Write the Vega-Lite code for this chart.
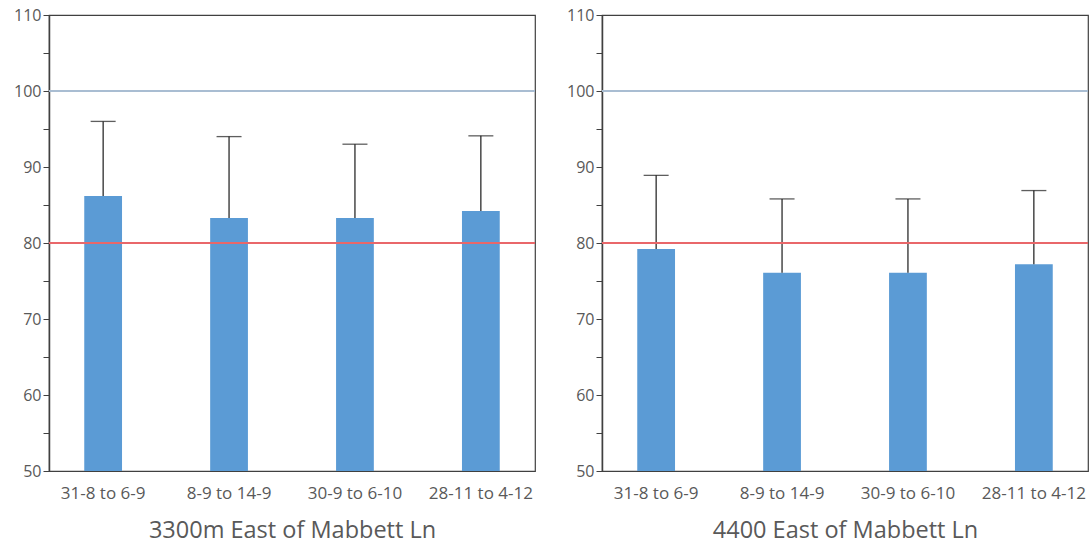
{
  "$schema": "https://vega.github.io/schema/vega-lite/v6.json",
  "padding": {"left": 12, "top": 6, "right": 0, "bottom": 0},
  "background": "white",
  "spacing": 28,
  "config": {
    "font": "Open Sans",
    "view": {"stroke": "#404040", "strokeWidth": 1.2},
    "axis": {
      "labelColor": "#595959",
      "titleColor": "#595959",
      "labelFont": "Open Sans",
      "titleFont": "Open Sans",
      "grid": false,
      "domainColor": "#404040",
      "tickColor": "#404040"
    },
    "axisY": {
      "title": null,
      "labelFontSize": 16,
      "tickSize": 6,
      "labelPadding": 2,
      "domainWidth": 1.5,
      "labelOverlap": false,
      "labelExpr": "datum.value % 10 === 0 ? datum.label : ''",
      "values": [50,52,54,56,58,60,62,64,66,68,70,72,74,76,78,80,82,84,86,88,90,92,94,96,98,100,102,104,106,108,110]
    },
    "axisX": {
      "labelAngle": 0,
      "ticks": false,
      "domain": false,
      "labelFontSize": 17,
      "labelPadding": 14,
      "titleFontSize": 23.5,
      "titleFontWeight": "normal",
      "titlePadding": 17
    }
  },
  "datasets": {
    "readings": [
      {"site": "3300m East of Mabbett Ln", "period": "31-8 to 6-9", "value": 86.2, "upper": 96.0},
      {"site": "3300m East of Mabbett Ln", "period": "8-9 to 14-9", "value": 83.3, "upper": 94.0},
      {"site": "3300m East of Mabbett Ln", "period": "30-9 to 6-10", "value": 83.3, "upper": 93.0},
      {"site": "3300m East of Mabbett Ln", "period": "28-11 to 4-12", "value": 84.2, "upper": 94.1},
      {"site": "4400 East of Mabbett Ln", "period": "31-8 to 6-9", "value": 79.2, "upper": 88.9},
      {"site": "4400 East of Mabbett Ln", "period": "8-9 to 14-9", "value": 76.1, "upper": 85.8},
      {"site": "4400 East of Mabbett Ln", "period": "30-9 to 6-10", "value": 76.1, "upper": 85.8},
      {"site": "4400 East of Mabbett Ln", "period": "28-11 to 4-12", "value": 77.2, "upper": 86.9}
    ]
  },
  "hconcat": [
    {
      "width": 486,
      "height": 456,
      "data": {"name": "readings"},
      "transform": [{"filter": "datum.site === '3300m East of Mabbett Ln'"}],
      "encoding": {
        "x": {
          "field": "period", "type": "nominal", "sort": null,
          "scale": {"paddingInner": 0.7, "paddingOuter": 0.28},
          "title": "3300m East of Mabbett Ln"
        },
        "y": {
          "field": "value", "type": "quantitative",
          "scale": {"domain": [50, 110], "nice": false, "zero": false}
        }
      },
      "layer": [
        {
          "mark": {"type": "bar", "color": "#5b9bd5", "width": {"band": 1}},
          "encoding": {"y2": {"datum": 50}}
        },
        {
          "mark": {"type": "rule", "color": "#1a1a1a", "strokeWidth": 1.2},
          "encoding": {"y2": {"field": "upper"}}
        },
        {
          "mark": {"type": "tick", "color": "#1a1a1a", "size": 25, "thickness": 1.3},
          "encoding": {"y": {"field": "upper", "type": "quantitative"}}
        },
        {
          "mark": {"type": "rule", "strokeWidth": 1.5, "color": "#a9bcd2"},
          "encoding": {"x": null, "y": {"datum": 100}}
        },
        {
          "mark": {"type": "rule", "strokeWidth": 1.5, "color": "#e8676a"},
          "encoding": {"x": null, "y": {"datum": 80}}
        }
      ]
    },
    {
      "width": 486,
      "height": 456,
      "data": {"name": "readings"},
      "transform": [{"filter": "datum.site === '4400 East of Mabbett Ln'"}],
      "encoding": {
        "x": {
          "field": "period", "type": "nominal", "sort": null,
          "scale": {"paddingInner": 0.7, "paddingOuter": 0.28},
          "title": "4400 East of Mabbett Ln"
        },
        "y": {
          "field": "value", "type": "quantitative",
          "scale": {"domain": [50, 110], "nice": false, "zero": false}
        }
      },
      "layer": [
        {
          "mark": {"type": "bar", "color": "#5b9bd5", "width": {"band": 1}},
          "encoding": {"y2": {"datum": 50}}
        },
        {
          "mark": {"type": "rule", "color": "#1a1a1a", "strokeWidth": 1.2},
          "encoding": {"y2": {"field": "upper"}}
        },
        {
          "mark": {"type": "tick", "color": "#1a1a1a", "size": 25, "thickness": 1.3},
          "encoding": {"y": {"field": "upper", "type": "quantitative"}}
        },
        {
          "mark": {"type": "rule", "strokeWidth": 1.5, "color": "#a9bcd2"},
          "encoding": {"x": null, "y": {"datum": 100}}
        },
        {
          "mark": {"type": "rule", "strokeWidth": 1.5, "color": "#e8676a"},
          "encoding": {"x": null, "y": {"datum": 80}}
        }
      ]
    }
  ]
}
